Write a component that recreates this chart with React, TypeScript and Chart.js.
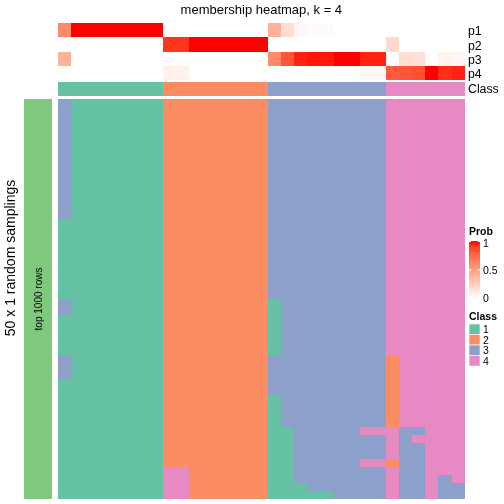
import { useEffect, useRef } from "react";
import { Chart, registerables } from "chart.js";

Chart.register(...registerables);

// ---------------- data ----------------
const TITLE = "membership heatmap, k = 4";
const ROW_TITLE = "50 x 1 random samplings";
const SLICE_TITLE = "top 1000 rows";
const ANNOT_LABELS = ["p1", "p2", "p3", "p4"];
const CLASS_LABEL = "Class";
const PROB_LEGEND_TITLE = "Prob";
const PROB_TICKS = [1, 0.5, 0];
const PROB_TICK_LABELS = ["1", "0.5", "0"];
const CLASS_LEGEND_LABELS = ["1", "2", "3", "4"];

// consensus class per column (31 columns)
const columnClass = [
  1, 1, 1, 1, 1, 1, 1, 1,
  2, 2, 2, 2, 2, 2, 2, 2,
  3, 3, 3, 3, 3, 3, 3, 3, 3,
  4, 4, 4, 4, 4, 4,
];

// membership probabilities per column
const p1 = [0.6, 1, 1, 1, 1, 1, 1, 1, 0, 0, 0, 0, 0, 0, 0, 0, 0.4, 0.18, 0.04, 0.02, 0.02, 0, 0, 0, 0, 0, 0, 0, 0, 0, 0];
const p2 = [0, 0, 0, 0, 0, 0, 0, 0, 0.92, 0.92, 1, 1, 1, 1, 1, 1, 0, 0, 0, 0, 0, 0, 0, 0, 0, 0.2, 0, 0, 0, 0, 0];
const p3 = [0.4, 0, 0, 0, 0, 0, 0, 0, 0, 0, 0, 0, 0, 0, 0, 0, 0.6, 0.82, 0.96, 0.98, 0.98, 1, 1, 0.96, 0.96, 0, 0.18, 0.16, 0, 0.06, 0.04];
const p4 = [0, 0, 0, 0, 0, 0, 0, 0, 0.08, 0.08, 0, 0, 0, 0, 0, 0, 0, 0, 0, 0, 0, 0, 0, 0.04, 0.04, 0.8, 0.82, 0.84, 1, 0.94, 0.96];

// class assigned in each of the 50 random samplings (rows) for each column
const samplingRows: string[] = [
  "3111111122222222333333333444444",
  "3111111122222222333333333444444",
  "3111111122222222333333333444444",
  "3111111122222222333333333444444",
  "3111111122222222333333333444444",
  "3111111122222222333333333444444",
  "3111111122222222333333333444444",
  "3111111122222222333333333444444",
  "3111111122222222333333333444444",
  "3111111122222222333333333444444",
  "3111111122222222333333333444444",
  "3111111122222222333333333444444",
  "3111111122222222333333333444444",
  "3111111122222222333333333444444",
  "3111111122222222333333333444444",
  "1111111122222222333333333444444",
  "1111111122222222333333333444444",
  "1111111122222222333333333444444",
  "1111111122222222333333333444444",
  "1111111122222222333333333444444",
  "1111111122222222333333333444444",
  "1111111122222222333333333444444",
  "1111111122222222333333333444444",
  "1111111122222222333333333444444",
  "1111111122222222333333333444444",
  "3111111122222222133333333444444",
  "3111111122222222133333333444444",
  "1111111122222222133333333444444",
  "1111111122222222133333333444444",
  "1111111122222222133333333444444",
  "1111111122222222133333333444444",
  "1111111122222222133333333444444",
  "3111111122222222333333333244444",
  "3111111122222222333333333244444",
  "3111111122222222333333333244444",
  "1111111122222222333333333244444",
  "1111111122222222333333333244444",
  "1111111122222222133333333244444",
  "1111111122222222133333333244444",
  "1111111122222222133333333244444",
  "1111111122222222133333333244444",
  "1111111122222222113333344433444",
  "1111111122222222113333333434444",
  "1111111122222222113333333433444",
  "1111111122222222113333333433444",
  "1111111122222222113333344233444",
  "1111111144222222113333333433444",
  "1111111144222222113333333433434",
  "1111111144222222111333333433433",
  "1111111144222222111113333433433",
];

const CLASS_COLORS: Record<string, string> = {
  "1": "#66C2A5",
  "2": "#FC8D62",
  "3": "#8DA0CB",
  "4": "#E78AC3",
};
const SLICE_COLOR = "#7FC97F";

// ---------------- colour ramp (white -> red, LAB) ----------------
function toLin(c: number) {
  c /= 255;
  return c <= 0.04045 ? c / 12.92 : Math.pow((c + 0.055) / 1.055, 2.4);
}
function fromLin(c: number) {
  const v = c <= 0.0031308 ? 12.92 * c : 1.055 * Math.pow(c, 1 / 2.4) - 0.055;
  return Math.max(0, Math.min(255, Math.round(v * 255)));
}
const Xn = 0.95047, Yn = 1, Zn = 1.08883;
function rgbToLab(rgb: number[]) {
  const [r, g, b] = rgb.map(toLin);
  const x = (0.4124 * r + 0.3576 * g + 0.1805 * b) / Xn;
  const y = (0.2126 * r + 0.7152 * g + 0.0722 * b) / Yn;
  const z = (0.0193 * r + 0.1192 * g + 0.9505 * b) / Zn;
  const f = (t: number) => (t > 216 / 24389 ? Math.cbrt(t) : (24389 / 27 * t + 16) / 116);
  const fx = f(x), fy = f(y), fz = f(z);
  return [116 * fy - 16, 500 * (fx - fy), 200 * (fy - fz)];
}
function labToRgb(lab: number[]) {
  const [L, a, bb] = lab;
  const fy = (L + 16) / 116, fx = fy + a / 500, fz = fy - bb / 200;
  const inv = (t: number) => (t * t * t > 216 / 24389 ? t * t * t : (116 * t - 16) / (24389 / 27));
  const x = inv(fx) * Xn, y = inv(fy) * Yn, z = inv(fz) * Zn;
  const r = 3.2406 * x - 1.5372 * y - 0.4986 * z;
  const g = -0.9689 * x + 1.8758 * y + 0.0415 * z;
  const b = 0.0557 * x - 0.204 * y + 1.057 * z;
  return [fromLin(r), fromLin(g), fromLin(b)];
}
const LAB_LOW = rgbToLab([255, 255, 255]);
const LAB_HIGH = rgbToLab([255, 0, 0]);
function probColor(v: number) {
  const t = Math.max(0, Math.min(1, v));
  const lab = LAB_LOW.map((l, i) => l + (LAB_HIGH[i] - l) * t);
  const [r, g, b] = labToRgb(lab);
  return `rgb(${r},${g},${b})`;
}

// ---------------- layout (pixel-ish units along y scale) ----------------
const NCOL = columnClass.length;
const NROW = samplingRows.length;
const ANNOT_H = 14.4;
const CLASS_TOP = 59;
const CLASS_H = 14;
const BODY_TOP = 76.3;
const ROW_H = 8;
const Y_MAX = BODY_TOP + NROW * ROW_H;
const FONT = "'Liberation Sans', Arial, Helvetica, sans-serif";

const heatmapPlugin = {
  id: "membershipHeatmap",
  afterDraw(chart: any) {
    const ctx: CanvasRenderingContext2D = chart.ctx;
    const xs = chart.scales.x;
    const ys = chart.scales.y;
    const px = (v: number) => Math.round(xs.getPixelForValue(v));
    const py = (v: number) => Math.round(ys.getPixelForValue(v));
    const cell = (c0: number, c1: number, y0: number, y1: number, color: string) => {
      const xa = px(c0), xb = px(c1), ya = py(y0), yb = py(y1);
      ctx.fillStyle = color;
      ctx.fillRect(xa, ya, xb - xa, yb - ya);
    };
    ctx.save();

    // top annotations p1..p4
    const probRows = [p1, p2, p3, p4];
    probRows.forEach((vals, k) => {
      vals.forEach((v, c) => cell(c, c + 1, k * ANNOT_H, (k + 1) * ANNOT_H, probColor(v)));
    });
    // class annotation
    columnClass.forEach((k, c) => cell(c, c + 1, CLASS_TOP, CLASS_TOP + CLASS_H, CLASS_COLORS[String(k)]));
    // main body
    samplingRows.forEach((row, r) => {
      for (let c = 0; c < NCOL; c++) {
        cell(c, c + 1, BODY_TOP + r * ROW_H, BODY_TOP + (r + 1) * ROW_H, CLASS_COLORS[row[c]]);
      }
    });

    // slice annotation bar on the left
    const bodyTop = py(BODY_TOP);
    const bodyBot = py(Y_MAX);
    const left0 = px(0);
    ctx.fillStyle = SLICE_COLOR;
    ctx.fillRect(left0 - 34, bodyTop, 28, bodyBot - bodyTop);

    ctx.fillStyle = "#000";
    // slice title
    ctx.save();
    ctx.translate(left0 - 16, (bodyTop + bodyBot) / 2);
    ctx.rotate(-Math.PI / 2);
    ctx.font = `10px ${FONT}`;
    ctx.textAlign = "center";
    ctx.textBaseline = "alphabetic";
    ctx.fillText(SLICE_TITLE, 0, 0);
    ctx.restore();

    // row title
    ctx.save();
    ctx.translate(14.8, 258);
    ctx.rotate(-Math.PI / 2);
    ctx.font = `14px ${FONT}`;
    ctx.textAlign = "center";
    ctx.textBaseline = "alphabetic";
    ctx.fillText(ROW_TITLE, 0, 0);
    ctx.restore();

    // column title
    ctx.font = `13px ${FONT}`;
    ctx.textAlign = "center";
    ctx.textBaseline = "alphabetic";
    ctx.fillText(TITLE, xs.getPixelForValue(NCOL / 2), 14.3);

    // annotation names
    const right = xs.getPixelForValue(NCOL);
    ctx.font = `12.3px ${FONT}`;
    ctx.textAlign = "left";
    ANNOT_LABELS.forEach((lab, k) => {
      ctx.fillText(lab, right + 3.3, ys.getPixelForValue((k + 0.5) * ANNOT_H) + 5.3);
    });
    ctx.fillText(CLASS_LABEL, right + 3.3, ys.getPixelForValue(CLASS_TOP + CLASS_H / 2) + 4.6);

    // Prob legend
    const lx = 469;
    ctx.font = `bold 10.5px ${FONT}`;
    ctx.fillText(PROB_LEGEND_TITLE, lx, 235);
    const gTop = 241, gBot = 298, gW = 11;
    const grad = ctx.createLinearGradient(0, gTop, 0, gBot);
    for (let i = 0; i <= 10; i++) grad.addColorStop(i / 10, probColor(1 - i / 10));
    ctx.fillStyle = grad;
    ctx.fillRect(lx, gTop, gW, gBot - gTop);
    ctx.fillStyle = "#000";
    ctx.font = `10.5px ${FONT}`;
    PROB_TICKS.forEach((v, i) => {
      const y = gBot - (gBot - gTop) * v;
      ctx.strokeStyle = "#fff";
      ctx.lineWidth = 1;
      ctx.beginPath();
      ctx.moveTo(lx, y + 0.5);
      ctx.lineTo(lx + 2, y + 0.5);
      ctx.moveTo(lx + gW - 2, y + 0.5);
      ctx.lineTo(lx + gW, y + 0.5);
      ctx.stroke();
      ctx.fillStyle = "#000";
      ctx.fillText(PROB_TICK_LABELS[i], lx + 14, Math.min(Math.max(y, gTop + 2), gBot) + 4);
    });

    // Class legend
    ctx.font = `bold 10.5px ${FONT}`;
    ctx.fillText(CLASS_LABEL, lx, 320);
    ctx.font = `10.5px ${FONT}`;
    const sq = 10.5;
    CLASS_LEGEND_LABELS.forEach((lab, i) => {
      const y = 324 + i * sq;
      ctx.fillStyle = CLASS_COLORS[lab];
      ctx.fillRect(lx, y, 11, sq);
      ctx.strokeStyle = "#fff";
      ctx.lineWidth = 0.6;
      ctx.strokeRect(lx, y, 11, sq);
      ctx.fillStyle = "#000";
      ctx.fillText(lab, lx + 14, y + sq / 2 + 3.8);
    });

    ctx.restore();
  },
};

export default function App() {
  const ref = useRef<HTMLCanvasElement>(null);
  useEffect(() => {
    if (!ref.current) return;
    const chart = new Chart(ref.current, {
      type: "scatter",
      data: { datasets: [] },
      options: {
        responsive: false,
        animation: false,
        events: [],
        layout: { padding: { left: 58, right: 39.3, top: 22.7, bottom: 5 } },
        plugins: {
          legend: { display: false },
          tooltip: { enabled: false },
          title: { display: false },
        },
        scales: {
          x: { type: "linear", display: false, min: 0, max: NCOL },
          y: { type: "linear", display: false, reverse: true, min: 0, max: Y_MAX },
        },
      },
      plugins: [heatmapPlugin],
    });
    return () => chart.destroy();
  }, []);
  return (
    <div style={{ position: "absolute", left: 0, top: 0, width: 504, height: 504, background: "#fff" }}>
      <canvas ref={ref} width={504} height={504} style={{ display: "block" }} />
    </div>
  );
}
